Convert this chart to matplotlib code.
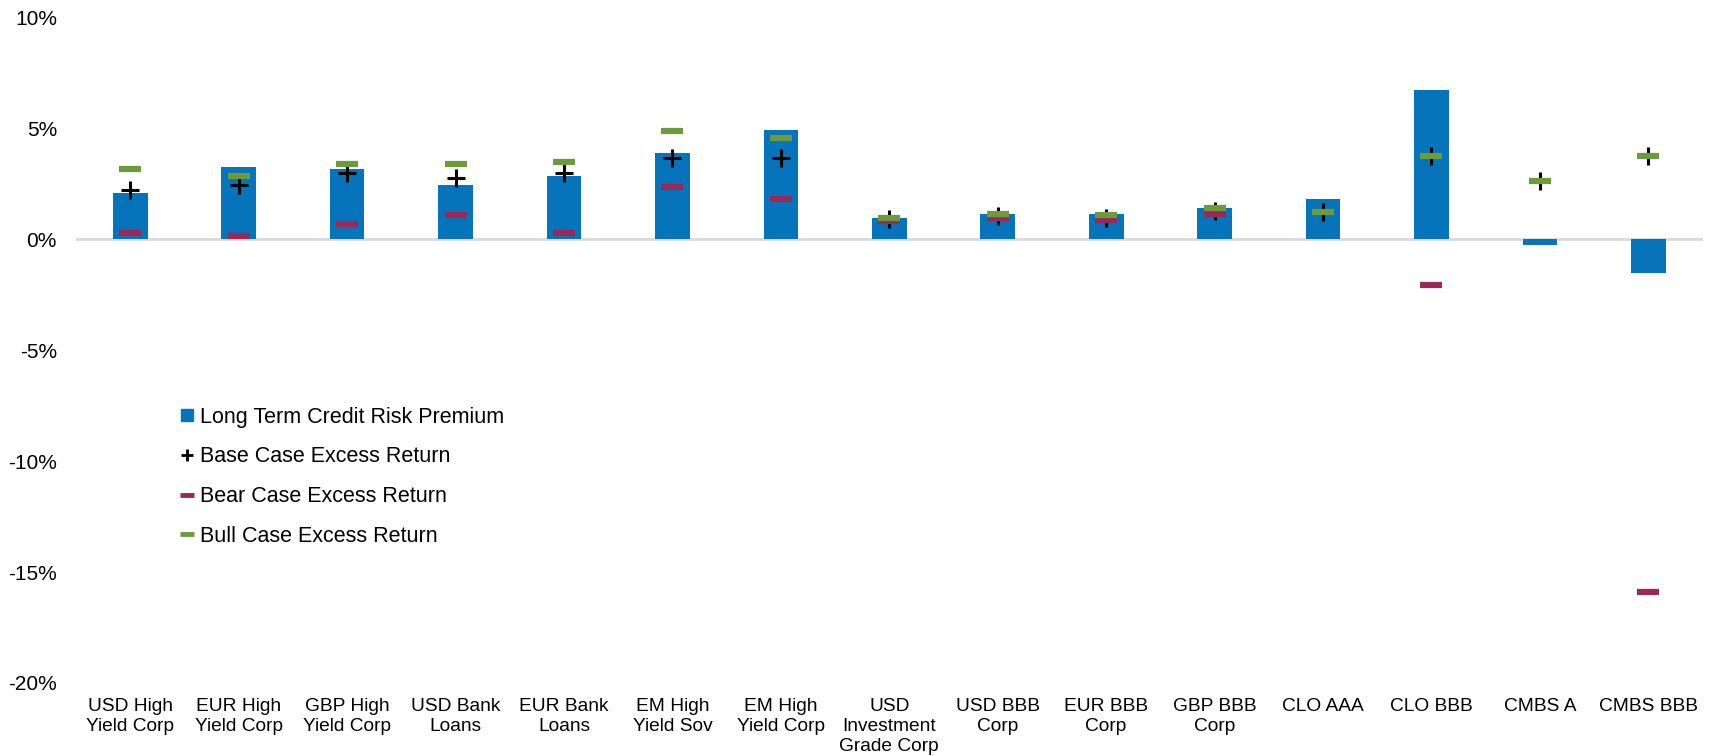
import matplotlib
matplotlib.use("Agg")
import matplotlib.pyplot as plt
from matplotlib.lines import Line2D
import numpy as np

categories = ["USD High\nYield Corp", "EUR High\nYield Corp", "GBP High\nYield Corp",
              "USD Bank\nLoans", "EUR Bank\nLoans", "EM High\nYield Sov", "EM High\nYield Corp",
              "USD\nInvestment\nGrade Corp", "USD BBB\nCorp", "EUR BBB\nCorp", "GBP BBB\nCorp",
              "CLO AAA", "CLO BBB", "CMBS A", "CMBS BBB"]
premium = [2.10, 3.24, 3.15, 2.47, 2.85, 3.89, 4.92, 0.98, 1.16, 1.15, 1.43, 1.84, 6.71, -0.25, -1.54]
base_case = [2.22, 2.44, 2.97, 2.76, 2.99, 3.67, 3.68, 0.92, 1.06, 0.98, 1.28, 1.21, 3.77, 2.61, 3.77]
bear_case = [0.29, 0.17, 0.68, 1.09, 0.29, 2.34, 1.81, 0.84, 0.97, 0.86, 1.14, np.nan, -2.08, np.nan, -15.9]
bull_case = [3.18, 2.84, 3.38, 3.39, 3.50, 4.89, 4.56, 0.97, 1.15, 1.09, 1.39, 1.22, 3.77, 2.62, 3.77]
yticks = [10, 5, 0, -5, -10, -15, -20]
ytick_labels = ["10%", "5%", "0%", "-5%", "-10%", "-15%", "-20%"]
series_labels = ["Long Term Credit Risk Premium", "Base Case Excess Return",
                 "Bear Case Excess Return", "Bull Case Excess Return"]

BLUE = "#0574BA"
GREEN = "#6B9B3A"
MAROON = "#9C2858"

plt.rcParams['font.family'] = ['Liberation Sans', 'DejaVu Sans']

fig = plt.figure(figsize=(17.15, 7.56), dpi=100)
L, R, T, B = 76.0, 1702.6, 17.5, 683.0
ax = fig.add_axes([L/1715, 1-B/756, (R-L)/1715, (B-T)/756])

x = np.arange(len(categories))
ax.bar(x, premium, width=0.32, color=BLUE, zorder=2)
ax.axhline(0, color="#D9D9D9", lw=2, zorder=1)
ax.plot(x, base_case, ls='none', marker='+', color='black', markersize=12.5, mew=2.2, zorder=3)
ax.plot(x, bear_case, ls='none', marker='_', color=MAROON, markersize=16, mew=4.5, zorder=4)
ax.plot(x, bull_case, ls='none', marker='_', color=GREEN, markersize=16, mew=4.5, zorder=5)

ax.set_xlim(-0.5, len(categories) - 0.5)
ax.set_ylim(-20, 10)
ax.set_yticks(yticks)
ax.set_yticklabels(ytick_labels, fontsize=15)
ax.set_xticks(x)
ax.set_xticklabels(categories, fontsize=13.8, linespacing=1.25)
ax.tick_params(axis='y', length=0, pad=13.7)
ax.tick_params(axis='x', length=0, pad=10.6)
for s in ax.spines.values():
    s.set_visible(False)

handles = [
    Line2D([], [], ls='none', marker='s', color=BLUE, markersize=8),
    Line2D([], [], ls='none', marker='+', color='black', markersize=8, mew=2),
    Line2D([], [], ls='none', marker='_', color=MAROON, markersize=9.5, mew=3.5),
    Line2D([], [], ls='none', marker='_', color=GREEN, markersize=9.5, mew=3.5),
]
leg = fig.legend(handles, series_labels, loc='upper left',
                 bbox_to_anchor=(169/1715, 1-396/756), frameon=False, fontsize=15.5,
                 handlelength=0.7, handletextpad=0.25, labelspacing=0.87, borderpad=0)

fig.savefig("out.png", dpi=100)
